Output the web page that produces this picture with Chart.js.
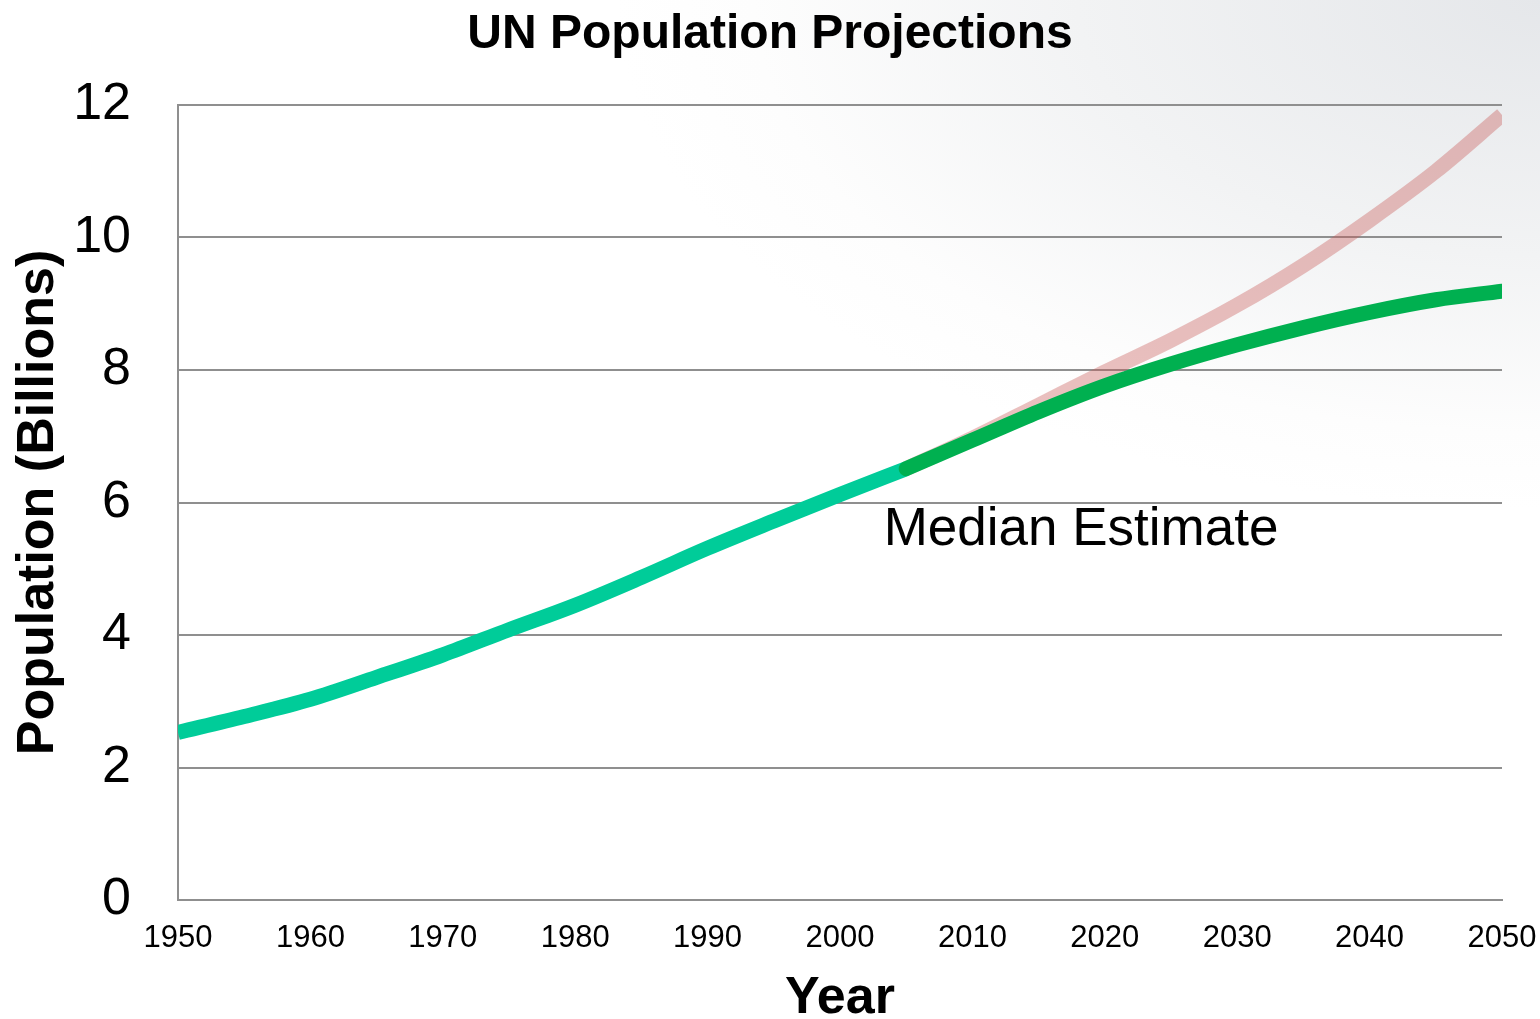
<!DOCTYPE html>
<html>
<head>
<meta charset="utf-8">
<script src="https://cdn.jsdelivr.net/npm/chart.js@4/dist/chart.umd.min.js"></script>
<style>
  html, body { margin: 0; padding: 0; }
  body {
    width: 1540px; height: 1019px; overflow: hidden;
    background: radial-gradient(ellipse 60% 50% at 100% 0%, #e5e7ea 0%, #f2f3f4 50%, #fdfdfd 85%, #ffffff 100%);
  }
  canvas { display: block; }
</style>
</head>
<body>
<canvas id="chart" width="1540" height="1019"></canvas>
<script>
// historical (1950-2005)
const histYears = [1950, 1955, 1960, 1965, 1970, 1975, 1980, 1985, 1990, 1995, 2000, 2005];
const histValues = [2.53, 2.77, 3.03, 3.36, 3.70, 4.08, 4.45, 4.87, 5.31, 5.72, 6.12, 6.51];

// projections (2005-2050)
const projYears = [2005, 2010, 2015, 2020, 2025, 2030, 2035, 2040, 2045, 2050];
const medianValues = [6.51, 6.94, 7.37, 7.76, 8.09, 8.38, 8.64, 8.87, 9.06, 9.19];
const highValues = [6.51, 6.97, 7.47, 7.97, 8.45, 8.98, 9.58, 10.26, 11.0, 11.85];

const xTicks = [1950, 1960, 1970, 1980, 1990, 2000, 2010, 2020, 2030, 2040, 2050];
const yTicks = [0, 2, 4, 6, 8, 10, 12];

const labelText = "Median Estimate";
const labelAt = { year: 2003.3, value: 5.36 };

const pts = (xs, ys) => xs.map((x, i) => ({ x, y: ys[i] }));
const FONT = "'Liberation Sans', Arial, sans-serif";
const GRID = "#8f8f8f";

const textLabel = {
  id: "textLabel",
  afterDatasetsDraw(chart) {
    const { ctx, scales: { x, y } } = chart;
    ctx.save();
    ctx.font = `53px ${FONT}`;
    ctx.fillStyle = "#000";
    ctx.textAlign = "left";
    ctx.textBaseline = "alphabetic";
    ctx.fillText(labelText, x.getPixelForValue(labelAt.year), y.getPixelForValue(labelAt.value));
    ctx.restore();
  },
};

new Chart(document.getElementById("chart"), {
  type: "line",
  data: {
    datasets: [
      {
        label: "Median",
        data: pts(projYears, medianValues),
        borderColor: "#00b050",
        borderWidth: 15,
        borderCapStyle: "round",
        order: 0,
      },
      {
        label: "Historical",
        data: pts(histYears, histValues),
        borderColor: "#00cc99",
        borderWidth: 15,
        order: 1,
      },
      {
        label: "High",
        data: pts(projYears, highValues),
        borderColor: "rgba(200,90,88,0.38)",
        borderWidth: 15,
        order: 2,
      },
    ],
  },
  plugins: [textLabel],
  options: {
    responsive: false,
    animation: false,
    devicePixelRatio: 1,
    layout: { padding: 0 },
    elements: {
      point: { radius: 0, hoverRadius: 0 },
      line: { cubicInterpolationMode: "monotone", fill: false },
    },
    datasets: { line: { clip: 0 } },
    plugins: {
      legend: { display: false },
      tooltip: { enabled: false },
      title: {
        display: true,
        text: "UN Population Projections",
        color: "#000",
        font: { family: FONT, size: 48, weight: "bold", lineHeight: 1 },
        padding: { top: 11, bottom: 46 },
      },
    },
    scales: {
      x: {
        type: "linear",
        min: xTicks[0],
        max: xTicks[xTicks.length - 1],
        afterBuildTicks: s => { s.ticks = xTicks.map(v => ({ value: v })); },
        afterFit: s => { s.height = 119; s.paddingLeft = 0; s.paddingRight = 38; },
        grid: { color: "rgba(0,0,0,0)", drawTicks: false },
        border: { display: true, color: GRID, width: 2 },
        ticks: {
          color: "#000",
          padding: 20,
          maxRotation: 0,
          autoSkip: false,
          font: { family: FONT, size: 31 },
          callback: v => String(v),
        },
        title: {
          display: true,
          text: "Year",
          color: "#000",
          font: { family: FONT, size: 52, weight: "bold", lineHeight: 0.8 },
          padding: { top: 0, bottom: 0 },
        },
      },
      y: {
        min: yTicks[0],
        max: yTicks[yTicks.length - 1],
        afterBuildTicks: s => { s.ticks = yTicks.map(v => ({ value: v })); },
        afterFit: s => { s.width = 178; },
        grid: { color: GRID, lineWidth: 2, drawTicks: false },
        border: { display: true, color: GRID, width: 2 },
        ticks: {
          color: "#000",
          padding: 47,
          font: { family: FONT, size: 52 },
          callback: v => String(v),
        },
        title: {
          display: true,
          text: "Population (Billions)",
          color: "#000",
          font: { family: FONT, size: 52, weight: "bold", lineHeight: 1.2 },
          padding: { top: 7, bottom: 0 },
        },
      },
    },
  },
});
</script>
</body>
</html>
